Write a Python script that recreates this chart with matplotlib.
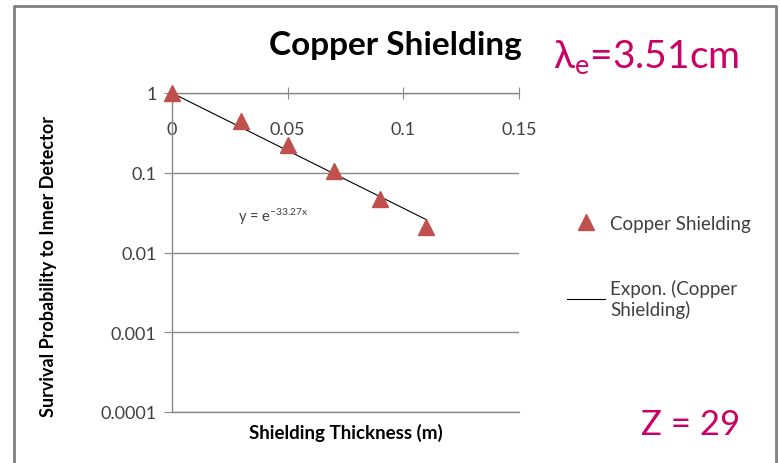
# Import required libraries
import numpy as np
import matplotlib
matplotlib.use('Agg')
import matplotlib.pyplot as plt
from matplotlib.lines import Line2D
from matplotlib.ticker import FixedLocator, FuncFormatter, NullLocator

plt.rcParams['font.family'] = ['Lato', 'DejaVu Sans']
plt.rcParams['mathtext.fontset'] = 'custom'
plt.rcParams['mathtext.rm'] = 'Lato'
plt.rcParams['mathtext.it'] = 'Lato'

# Data
thickness = [0.0, 0.03, 0.05, 0.07, 0.09, 0.11]
survival = [1.0, 0.45, 0.22, 0.105, 0.047, 0.021]
fit_coef = -33.27
x_ticks = [0, 0.05, 0.1, 0.15]
y_ticks = [0.0001, 0.001, 0.01, 0.1, 1]
y_tick_labels = ['0.0001', '0.001', '0.01', '0.1', '1']

marker_color = '#C0504D'
pink = '#CC0066'
axis_gray = '#888888'
text_gray = '#404040'

fig = plt.figure(figsize=(7.8, 4.64), dpi=100)
ax = fig.add_axes([172 / 780, 1 - 413 / 464, 347 / 780, 319 / 464])

# Scatter of the measurements
ax.plot(thickness, survival, linestyle='none', marker='^', markersize=11,
        color=marker_color, label='Copper Shielding', zorder=3, clip_on=False)

# Exponential trend line
fit_x = np.linspace(min(thickness), max(thickness), 50)
fit_y = np.exp(fit_coef * fit_x)
ax.plot(fit_x, fit_y, color='black', lw=0.8, label='Expon. (Copper\nShielding)', zorder=2)

ax.text(0.0286, 0.029, r'y = e$^{\mathregular{-33.27x}}$', fontsize=10.5, color=text_gray,
        ha='left', va='center')

# Axes setup
ax.set_yscale('log')
ax.set_xlim(0, 0.15)
ax.set_ylim(0.0001, 1)
ax.yaxis.set_major_locator(FixedLocator(y_ticks))
ax.yaxis.set_minor_locator(NullLocator())
ax.yaxis.set_major_formatter(FuncFormatter(lambda v, p: y_tick_labels[y_ticks.index(min(y_ticks, key=lambda t: abs(t - v)))]))
ax.set_xticks(x_ticks)
ax.set_xticklabels(['0', '0.05', '0.1', '0.15'])
ax.grid(axis='y', color=axis_gray, lw=1)
ax.set_axisbelow(True)

for side in ['top', 'bottom', 'left']:
    ax.spines[side].set_color(axis_gray)
    ax.spines[side].set_linewidth(1)
ax.spines['right'].set_visible(False)

ax.tick_params(axis='y', direction='out', length=6, color=axis_gray,
               labelsize=13, labelcolor=text_gray, pad=5)
ax.tick_params(axis='x', direction='inout', length=8, color=axis_gray,
               top=True, bottom=False, labeltop=True, labelbottom=False,
               labelsize=13, labelcolor=text_gray, pad=-36)

ax.set_xlabel('Shielding Thickness (m)', fontsize=13.5, fontweight='bold', labelpad=8)
ax.set_ylabel('Survival Probability to Inner Detector', fontsize=13, fontweight='bold')
ax.yaxis.set_label_coords((57 - 172) / 347, 0.46)

# Titles and annotations
fig.text(395 / 780, 1 - 45 / 464, 'Copper Shielding', fontsize=24, fontweight='bold',
         ha='center', va='center')
fig.text(553 / 780, 1 - 57 / 464, r'λ$_\mathregular{e}$=3.51cm', fontsize=28, color=pink,
         ha='left', va='center')
fig.text(740 / 780, 1 - 425 / 464, 'Z = 29', fontsize=25, color=pink,
         ha='right', va='center')

# Legend
fig.legend(loc='upper left', bbox_to_anchor=(567 / 780, 1 - 216 / 464), frameon=False,
           fontsize=13.5, labelspacing=2.5, handlelength=2.0, handletextpad=0.3,
           borderpad=0, borderaxespad=0, labelcolor=text_gray)

# Outer chart border (left, top, right)
fig.add_artist(Line2D([14 / 780, 14 / 780, 776 / 780, 776 / 780],
                      [0, 1 - 7 / 464, 1 - 7 / 464, 0],
                      transform=fig.transFigure, color='#808080', lw=2))

plt.savefig('out.png', dpi=100)
